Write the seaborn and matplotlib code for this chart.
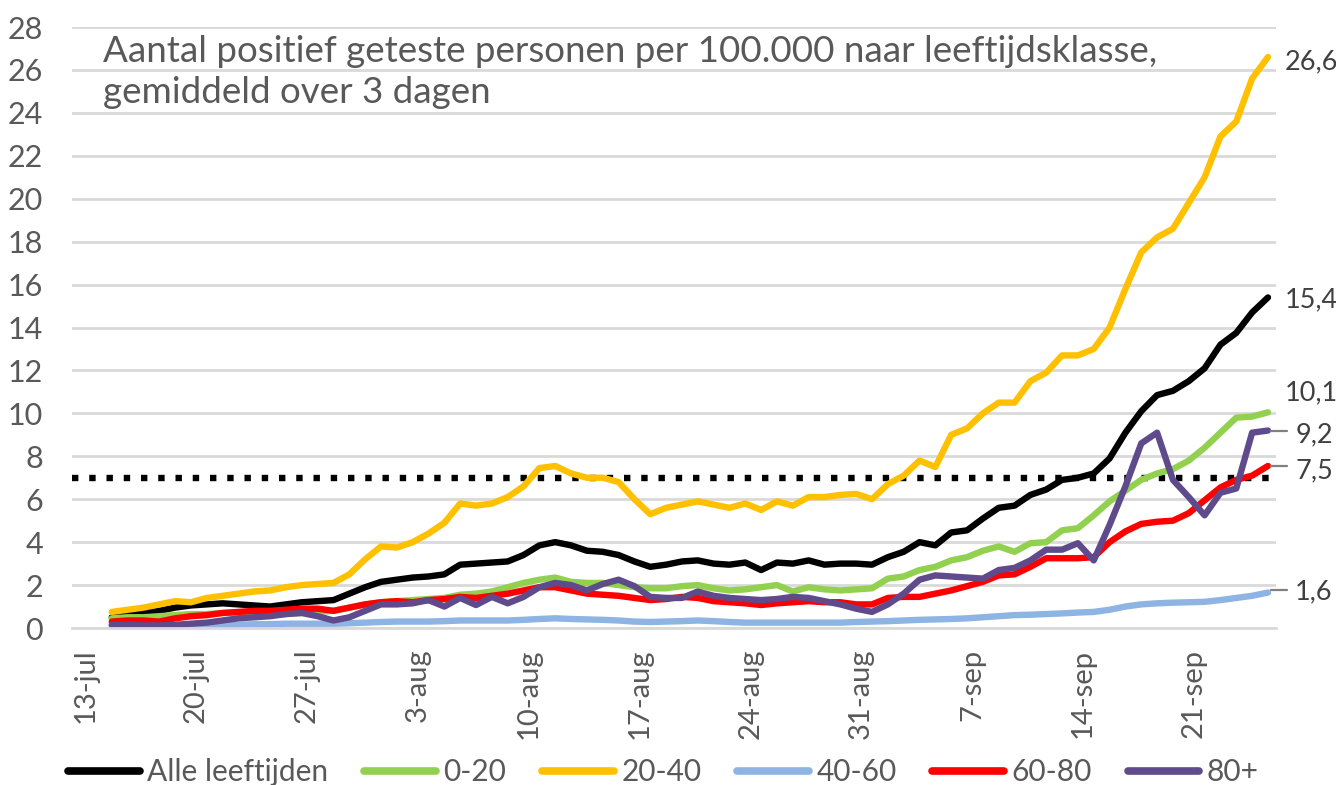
"""
Positief geteste personen per 100.000, per leeftijdsklasse (3-daags gemiddelde)
"""

import pandas as pd
import numpy as np
import matplotlib.pyplot as plt
import matplotlib.transforms as mtransforms
import seaborn as sns

# ---- data ----
start_date = '2020-07-15'
end_date = '2020-09-26'

groups = ['Alle leeftijden', '0-20', '20-40', '40-60', '60-80', '80+']

alle = [0.5, 0.6, 0.7, 0.8, 0.95, 1.05, 1.1,
        1.15, 1.1, 1.05, 1.0, 1.1, 1.2, 1.25,
        1.3, 1.6, 1.9, 2.15, 2.25, 2.35, 2.4,
        2.5, 2.95, 3.0, 3.05, 3.1, 3.4, 3.85,
        4.0, 3.85, 3.6, 3.55, 3.4, 3.1, 2.85,
        2.95, 3.1, 3.15, 3.0, 2.95, 3.05, 2.7,
        3.05, 3.0, 3.15, 2.95, 3.0, 3.0, 2.95,
        3.3, 3.55, 4.0, 3.85, 4.45, 4.55, 5.1,
        5.6, 5.7, 6.2, 6.45, 6.9, 7.0, 7.2,
        7.9, 9.1, 10.1, 10.85, 11.05, 11.5, 12.1,
        13.2, 13.75, 14.7, 15.4]

age_0_20 = [0.45, 0.5, 0.5, 0.55, 0.6, 0.65, 0.65,
            0.7, 0.7, 0.65, 0.6, 0.65, 0.7, 0.75,
            0.8, 0.95, 1.1, 1.2, 1.25, 1.3, 1.35,
            1.4, 1.55, 1.6, 1.7, 1.9, 2.1, 2.25,
            2.35, 2.15, 2.1, 2.1, 2.0, 1.9, 1.85,
            1.85, 1.95, 2.0, 1.85, 1.75, 1.8, 1.9,
            2.0, 1.7, 1.9, 1.8, 1.75, 1.8, 1.85,
            2.3, 2.4, 2.7, 2.85, 3.15, 3.3, 3.6,
            3.8, 3.55, 3.95, 4.0, 4.55, 4.65, 5.25,
            5.9, 6.4, 6.9, 7.2, 7.4, 7.8, 8.4,
            9.1, 9.8, 9.85, 10.05]

age_20_40 = [0.75, 0.85, 0.95, 1.1, 1.25, 1.2, 1.4,
             1.5, 1.6, 1.7, 1.75, 1.9, 2.0, 2.05,
             2.1, 2.5, 3.2, 3.8, 3.75, 4.0, 4.4,
             4.9, 5.8, 5.7, 5.8, 6.1, 6.6, 7.45,
             7.55, 7.2, 7.0, 7.0, 6.8, 6.0, 5.3,
             5.6, 5.75, 5.9, 5.75, 5.6, 5.8, 5.5,
             5.9, 5.7, 6.1, 6.1, 6.2, 6.25, 6.0,
             6.7, 7.1, 7.8, 7.5, 9.0, 9.3, 10.0,
             10.5, 10.5, 11.5, 11.9, 12.7, 12.7, 13.0,
             14.0, 15.8, 17.5, 18.2, 18.6, 19.8, 21.0,
             22.9, 23.6, 25.6, 26.6]

age_40_60 = [0.1, 0.1, 0.1, 0.1, 0.12, 0.12, 0.15,
             0.15, 0.15, 0.18, 0.18, 0.2, 0.2, 0.2,
             0.2, 0.22, 0.25, 0.28, 0.3, 0.3, 0.3,
             0.32, 0.35, 0.35, 0.35, 0.35, 0.38, 0.42,
             0.45, 0.42, 0.4, 0.38, 0.35, 0.3, 0.28,
             0.3, 0.32, 0.35, 0.32, 0.28, 0.25, 0.25,
             0.25, 0.25, 0.25, 0.25, 0.25, 0.28, 0.3,
             0.32, 0.35, 0.38, 0.4, 0.42, 0.45, 0.5,
             0.55, 0.6, 0.62, 0.65, 0.68, 0.72, 0.75,
             0.85, 1.0, 1.1, 1.15, 1.18, 1.2, 1.22,
             1.3, 1.4, 1.5, 1.65]

age_60_80 = [0.3, 0.35, 0.35, 0.3, 0.45, 0.55, 0.6,
             0.7, 0.75, 0.8, 0.8, 0.85, 0.9, 0.9,
             0.8, 0.95, 1.1, 1.2, 1.25, 1.2, 1.3,
             1.35, 1.45, 1.4, 1.5, 1.6, 1.75, 1.9,
             1.9, 1.75, 1.6, 1.55, 1.5, 1.4, 1.3,
             1.35, 1.45, 1.4, 1.25, 1.2, 1.15, 1.07,
             1.15, 1.2, 1.25, 1.2, 1.2, 1.1, 1.1,
             1.4, 1.45, 1.45, 1.6, 1.75, 1.95, 2.15,
             2.45, 2.5, 2.85, 3.25, 3.25, 3.25, 3.3,
             4.0, 4.5, 4.85, 4.95, 5.0, 5.35, 5.95,
             6.55, 6.9, 7.1, 7.55]

age_80_plus = [0.15, 0.15, 0.12, 0.12, 0.15, 0.2, 0.25,
               0.35, 0.45, 0.5, 0.55, 0.65, 0.7, 0.55,
               0.35, 0.5, 0.8, 1.1, 1.1, 1.15, 1.3,
               1.0, 1.4, 1.07, 1.45, 1.15, 1.45, 1.9,
               2.1, 2.0, 1.75, 2.05, 2.25, 1.95, 1.45,
               1.4, 1.4, 1.7, 1.5, 1.4, 1.35, 1.3,
               1.35, 1.45, 1.4, 1.25, 1.1, 0.9, 0.75,
               1.1, 1.6, 2.25, 2.45, 2.4, 2.35, 2.3,
               2.7, 2.8, 3.15, 3.65, 3.65, 3.95, 3.15,
               4.8, 6.6, 8.6, 9.1, 6.9, 6.1, 5.25,
               6.3, 6.5, 9.1, 9.2]

threshold = 7.0

tick_labels = ['13-jul', '20-jul', '27-jul', '3-aug', '10-aug', '17-aug',
               '24-aug', '31-aug', '7-sep', '14-sep', '21-sep']
tick_dates = pd.date_range('2020-07-13', periods=len(tick_labels), freq='7D')

end_labels = ['26,6', '15,4', '10,1', '9,2', '7,5', '1,6']

title_text = ('Aantal positief geteste personen per 100.000 naar leeftijdsklasse,\n'
              'gemiddeld over 3 dagen')

colors = ['#000000', '#92D050', '#FFC000', '#8DB4E2', '#FF0000', '#5F4A8B']

# ---- long-form table for seaborn ----
dates = pd.date_range(start_date, end_date, freq='D')
series = [alle, age_0_20, age_20_40, age_40_60, age_60_80, age_80_plus]
frames = []
for name, vals in zip(groups, series):
    # Excel draws every day in the middle of its slot
    frames.append(pd.DataFrame({'datum': dates + pd.Timedelta(hours=12),
                                'waarde': vals,
                                'groep': name}))
df = pd.concat(frames, ignore_index=True)

# ---- plot ----
sns.set_style('white')
plt.rcParams['font.family'] = ['Lato', 'DejaVu Sans']
text_grey = '#595959'
grid_grey = '#D9D9D9'

fig = plt.figure(figsize=(13.36, 7.85), dpi=100)
ax = fig.add_axes([0.054, 0.2, 0.901, 0.7656])

sns.lineplot(data=df, x='datum', y='waarde', hue='groep', hue_order=groups,
             palette=colors, linewidth=4.6, ax=ax, legend=True)

ax.axhline(threshold, color='black', linewidth=4.6,
           linestyle=(0, (1, 1.7)), dash_capstyle='butt', zorder=1)

ax.set_ylim(0, 28)
ax.set_yticks(np.arange(0, 29, 2))
ax.set_xlim(pd.Timestamp('2020-07-13'), pd.Timestamp('2020-09-27'))
ax.set_xticks(tick_dates)
ax.set_xticklabels(tick_labels, rotation=90, ha='left', va='top')

ax.grid(axis='y', color=grid_grey, linewidth=2)
ax.set_axisbelow(True)
for side in ['left', 'right', 'top']:
    ax.spines[side].set_visible(False)
ax.spines['bottom'].set_color(grid_grey)
ax.spines['bottom'].set_linewidth(2)

ax.tick_params(axis='y', length=0, pad=21, labelsize=22, labelcolor=text_grey)
ax.tick_params(axis='x', length=7, width=2, color=grid_grey, pad=8,
               labelsize=21, labelcolor=text_grey, direction='out')
ax.set_xlabel('')
ax.set_ylabel('')

ax.text(0.026, 0.987, title_text, transform=ax.transAxes, ha='left', va='top',
        fontsize=26.5, color=text_grey, linespacing=1.3)

# end-of-line values at the right edge
trans = mtransforms.blended_transform_factory(ax.transAxes, ax.transData)
label_y = [26.4, 15.3, 10.95, 9.0, 7.3, 1.68]
with_leader = [False, False, False, True, True, True]
leader_y = [age_80_plus[-1], age_60_80[-1], age_40_60[-1] + 0.1]
k = 0
for txt, y, lead in zip(end_labels, label_y, with_leader):
    x0 = 1.007
    if lead:
        ax.plot([0.996, 1.009], [leader_y[k], leader_y[k]], transform=trans,
                color='#808080', linewidth=1.6, clip_on=False)
        x0 = 1.016
        k += 1
    ax.text(x0, y, txt, transform=trans, ha='left', va='center',
            fontsize=19.5, color='#404040', clip_on=False)

# legend along the bottom
handles, labels = ax.get_legend_handles_labels()
ax.get_legend().remove()
fig.legend(handles, labels, loc='center left', bbox_to_anchor=(0.051, 0.0166),
           ncol=6, frameon=False, fontsize=21.5, handlelength=2.4,
           handletextpad=0.25, columnspacing=1.2, borderpad=0, borderaxespad=0,
           labelcolor=text_grey)
for line in fig.legends[0].get_lines():
    line.set_linewidth(5.5)

plt.savefig('out.png', dpi=100)
print("Saved out.png")
